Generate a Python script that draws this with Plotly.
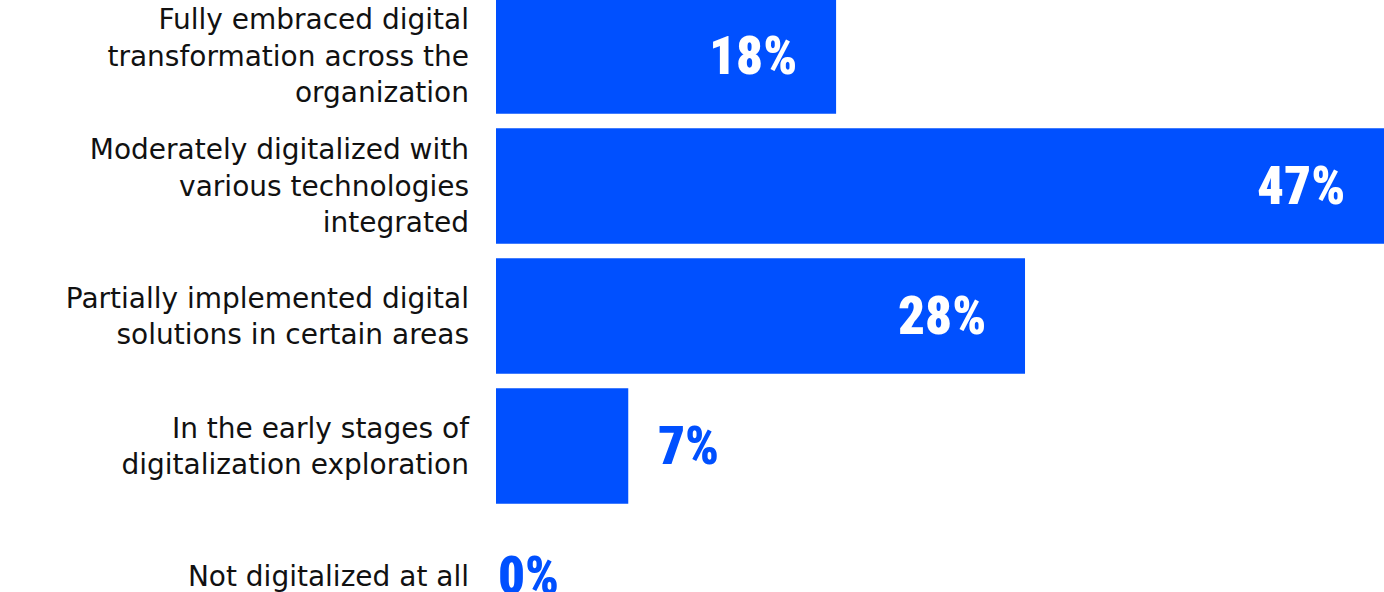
import plotly.graph_objects as go

categories = [
    "Fully embraced digital<br>transformation across the<br>organization",
    "Moderately digitalized with<br>various technologies<br>integrated",
    "Partially implemented digital<br>solutions in certain areas",
    "In the early stages of<br>digitalization exploration",
    "Not digitalized at all",
]
values = [18, 47, 28, 7, 0]
value_labels = ["18%", "47%", "28%", "7%", "0%"]

BLUE = "#0050FF"
LABEL_FONT = "Roboto Condensed, Roboto, sans-serif"

fig = go.Figure(
    go.Bar(
        x=values,
        y=categories,
        orientation="h",
        marker=dict(color=BLUE, line=dict(width=0)),
        hoverinfo="skip",
    )
)

# value labels: white inside long bars, blue just past short ones
for cat, v, lab in zip(categories, values, value_labels):
    inside = v >= 10
    fig.add_annotation(
        x=v,
        y=cat,
        text=lab,
        showarrow=False,
        xanchor="right" if inside else "left",
        yanchor="middle",
        xshift=-37 if inside else (28 if v > 0 else 0),
        font=dict(family=LABEL_FONT, size=53, weight=900,
                  color="white" if inside else BLUE),
    )

fig.update_layout(
    width=1384,
    height=592,
    margin=dict(l=496, r=0, t=0, b=0),
    paper_bgcolor="white",
    plot_bgcolor="white",
    bargap=0.112,
    showlegend=False,
    xaxis=dict(range=[0, 47], visible=False, fixedrange=True),
    yaxis=dict(
        range=[4.123, -0.4308],
        showgrid=False,
        zeroline=False,
        showline=False,
        ticks="",
        ticklabelstandoff=26,
        tickfont=dict(family="DejaVu Sans, sans-serif", size=28, color="#111111"),
        fixedrange=True,
    ),
)

fig.write_html("out.html", config={"displayModeBar": False})
